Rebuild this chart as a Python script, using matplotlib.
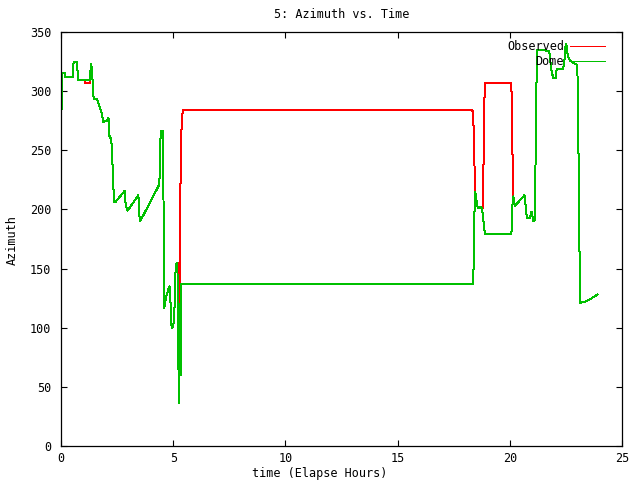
import matplotlib
matplotlib.use("Agg")
import matplotlib.pyplot as plt

title = "5: Azimuth vs. Time"
x_label = "time (Elapse Hours)"
y_label = "Azimuth"
series_names = ["Observed", "Dome"]
x_ticks = [0, 5, 10, 15, 20, 25]
y_ticks = [0, 50, 100, 150, 200, 250, 300, 350]

dome_time = [0.00, 0.03, 0.06, 0.19, 0.20, 0.53, 0.56, 0.71, 0.73, 0.76, 1.28, 1.30, 1.32, 1.35,
             1.40, 1.43, 1.46, 1.62, 1.64, 1.71, 1.77, 1.83, 1.87, 2.06, 2.09, 2.12, 2.14, 2.24,
             2.28, 2.33, 2.38, 2.41, 2.85, 2.88, 2.97, 3.45, 3.49, 3.53, 4.38, 4.40, 4.41, 4.46,
             4.56, 4.57, 4.59, 4.60, 4.71, 4.83, 4.86, 4.89, 4.93, 5.00, 5.05, 5.11, 5.16, 5.19,
             5.20, 5.23, 5.25, 5.26, 5.27, 5.29, 5.31, 5.33, 5.35, 18.37, 18.39, 18.42, 18.46,
             18.51, 18.55, 18.61, 18.70, 18.76, 18.81, 18.85, 18.91, 20.07, 20.09, 20.11, 20.16,
             20.23, 20.65, 20.69, 20.72, 20.77, 20.90, 20.97, 21.05, 21.11, 21.14, 21.18, 21.23,
             21.76, 21.79, 21.87, 21.94, 22.05, 22.09, 22.38, 22.43, 22.49, 22.52, 22.56, 22.62,
             22.68, 22.83, 23.01, 23.05, 23.10, 23.14, 23.35, 23.57, 23.90]
dome_azimuth = [276, 287, 315, 315, 312, 312, 325, 325, 319, 309, 309, 312, 319, 323,
                311, 300, 293, 293, 291, 287, 284, 281, 274, 275, 277, 277, 263, 259,
                246, 219, 206, 206, 216, 204, 199, 212, 195, 190, 221, 232, 254, 266,
                266, 191, 125, 117, 128, 135, 134, 115, 100, 101, 112, 152, 155, 155,
                100, 65, 100, 36, 120, 60, 100, 60, 137, 137, 157, 195, 215,
                208, 203, 201, 202, 201, 194, 184, 179, 179, 187, 202, 211,
                203, 212, 207, 198, 193, 193, 198, 190, 191, 228, 300, 335,
                334, 328, 316, 311, 311, 319, 319, 325, 340, 340, 333, 328,
                326, 324, 322, 270, 172, 121, 122, 124, 128]

observed_time = [0.00, 0.03, 0.06, 0.19, 0.20, 0.53, 0.56, 0.71, 0.73, 0.76, 1.05, 1.06, 1.28, 1.30,
                 1.32, 1.35, 1.40, 1.43, 1.46, 1.62, 1.64, 1.71, 1.77, 1.83, 1.87, 2.06, 2.09, 2.12,
                 2.14, 2.24, 2.28, 2.33, 2.38, 2.41, 2.85, 2.88, 2.97, 3.45, 3.49, 3.53, 4.38, 4.40,
                 4.41, 4.46, 4.56, 4.57, 4.59, 4.60, 4.71, 4.83, 4.86, 4.89, 4.93, 5.00, 5.05, 5.11,
                 5.16, 5.19, 5.22, 5.28, 5.30, 5.32, 5.38, 5.41, 5.45, 18.33, 18.37, 18.40, 18.44,
                 18.46, 18.51, 18.55, 18.61, 18.70, 18.76, 18.80, 18.82, 18.85, 18.89, 20.07, 20.09,
                 20.13, 20.16, 20.23, 20.65, 20.69, 20.72, 20.77, 20.90, 20.97, 21.05, 21.11, 21.14,
                 21.18, 21.23, 21.76, 21.79, 21.87, 21.94, 22.05, 22.09, 22.38, 22.43, 22.49, 22.52,
                 22.56, 22.62, 22.68, 22.83, 23.01, 23.05, 23.10, 23.14, 23.35, 23.57, 23.90]
observed_azimuth = [276, 287, 315, 315, 312, 312, 325, 325, 319, 309, 309, 307, 307, 312,
                    319, 323, 311, 300, 293, 293, 291, 287, 284, 281, 274, 275, 277, 277,
                    263, 259, 246, 219, 206, 206, 216, 204, 199, 212, 195, 190, 221, 232,
                    254, 266, 266, 191, 125, 117, 128, 135, 134, 115, 100, 101, 112, 152,
                    155, 155, 150, 112, 112, 216, 278, 281, 284, 284, 280, 259, 226,
                    215, 208, 203, 201, 202, 201, 201, 223, 278, 307, 307, 283,
                    235, 211, 203, 212, 207, 198, 193, 193, 198, 190, 191, 228,
                    300, 335, 334, 328, 316, 311, 311, 319, 319, 325, 340, 340,
                    333, 328, 326, 324, 322, 270, 172, 121, 122, 124, 128]

plt.rcParams['font.family'] = ['DejaVu Sans Mono']
plt.rcParams['font.size'] = 8.5

fig = plt.figure(figsize=(6.4, 4.8), dpi=100)
ax = fig.add_axes([61/640, 1 - 446/480, (622 - 61)/640, (446 - 32)/480])

ax.plot(observed_time, observed_azimuth, color='#ff0000', lw=0.72, antialiased=False,
        label=series_names[0])
ax.plot(dome_time, dome_azimuth, color='#00c000', lw=0.72, antialiased=False,
        label=series_names[1])

ax.set_xlim(0, 25)
ax.set_ylim(0, 350)
ax.set_xticks(x_ticks)
ax.set_yticks(y_ticks)
ax.tick_params(direction='in', length=4.5, width=0.8, top=True, right=True)
ax.tick_params(axis='x', pad=4)
ax.tick_params(axis='y', pad=7)
for s in ax.spines.values():
    s.set_linewidth(0.9)

ax.set_title(title, pad=10, fontsize=8.5)
fig.text(0.5, 1 - 473/480, x_label, ha='center', va='center')
fig.text(12/640, 0.5, y_label, ha='center', va='center', rotation=90)

ax.legend(loc='upper right', frameon=False, markerfirst=False, handlelength=3.0,
          handletextpad=0.5, labelspacing=0.15, borderaxespad=0.3,
          bbox_to_anchor=(0.985, 1.0))

fig.savefig("out.png", dpi=100)
